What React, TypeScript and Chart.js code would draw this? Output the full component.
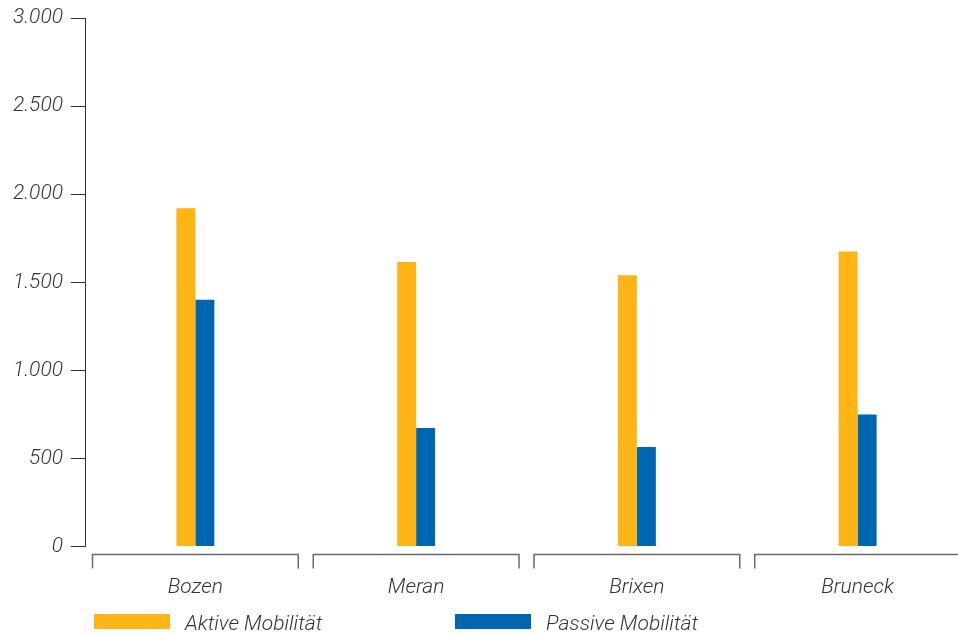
import React, { useEffect, useRef } from "react";
import { Chart, registerables } from "chart.js";

Chart.register(...registerables);

const categories = ["Bozen", "Meran", "Brixen", "Bruneck"];
const aktiveValues = [1920, 1615, 1540, 1675];
const passiveValues = [1400, 672, 565, 750];
const seriesNames = ["Aktive Mobilität", "Passive Mobilität"];
const yTicks = [0, 500, 1000, 1500, 2000, 2500, 3000];

const ORANGE = "#FDB515";
const BLUE = "#0066B2";
const TEXT = "#333333";
const FONT_FAMILY = "Roboto, 'Liberation Sans', sans-serif";

const fmt = (v: number) =>
  v === 0 ? "0" : v.toLocaleString("de-DE", { maximumFractionDigits: 0 }).replace(",", ".");

const bracketPlugin = {
  id: "brackets",
  afterDraw(chart: any) {
    const ctx = chart.ctx;
    const xs = chart.scales.x;
    const n = categories.length;
    const w = (xs.right - xs.left) / n;
    const yTop = chart.chartArea.bottom + 8;
    const yBot = yTop + 14;
    ctx.save();
    ctx.strokeStyle = "#6a6a6a";
    ctx.lineWidth = 1.5;
    for (let i = 0; i < n; i++) {
      const c = xs.getPixelForValue(i);
      const a = c - w / 2 + 7.5;
      const b = c + w / 2 - 7.5;
      ctx.beginPath();
      ctx.moveTo(a, yBot);
      ctx.lineTo(a, yTop);
      ctx.lineTo(b, yTop);
      ctx.lineTo(b, yBot);
      ctx.stroke();
    }
    // legend
    const colors = [ORANGE, BLUE];
    const boxX = [94, 455];
    ctx.font = `italic 300 21px ${FONT_FAMILY}`;
    ctx.fillStyle = TEXT;
    ctx.textBaseline = "alphabetic";
    ctx.textAlign = "left";
    for (let i = 0; i < seriesNames.length; i++) {
      ctx.fillStyle = colors[i];
      ctx.fillRect(boxX[i], 614, 76, 15);
      ctx.fillStyle = TEXT;
      ctx.fillText(seriesNames[i], boxX[i] + 91, 630);
    }
    ctx.restore();
  },
};

export default function App() {
  const ref = useRef<HTMLCanvasElement | null>(null);
  useEffect(() => {
    if (!ref.current) return;
    const chart = new Chart(ref.current, {
      type: "bar",
      data: {
        labels: categories,
        datasets: [
          {
            label: seriesNames[0],
            data: aktiveValues,
            backgroundColor: ORANGE,
            categoryPercentage: 0.172,
            barPercentage: 1,
          },
          {
            label: seriesNames[1],
            data: passiveValues,
            backgroundColor: BLUE,
            categoryPercentage: 0.172,
            barPercentage: 1,
          },
        ],
      },
      options: {
        animation: false,
        responsive: true,
        maintainAspectRatio: false,
        layout: { padding: { top: 18, right: 0, left: 0, bottom: 0 } },
        plugins: { legend: { display: false }, tooltip: { enabled: false } },
        scales: {
          x: {
            grid: { display: false, drawTicks: false },
            border: { display: false },
            ticks: {
              padding: 29,
              color: TEXT,
              font: { family: FONT_FAMILY, size: 21, style: "italic", weight: "300" as any },
            },
            afterFit: (s: any) => {
              s.height = 88.5;
              s.paddingLeft = 0;
              s.paddingRight = 0;
            },
          },
          y: {
            min: 0,
            max: 3000,
            afterBuildTicks: (s: any) => {
              s.ticks = yTicks.map((v) => ({ value: v }));
            },
            grid: {
              drawOnChartArea: false,
              drawTicks: true,
              tickLength: 14,
              tickColor: TEXT,
              lineWidth: 1,
            },
            border: { display: true, color: TEXT, width: 1 },
            ticks: {
              padding: 8,
              color: TEXT,
              font: { family: FONT_FAMILY, size: 21, style: "italic", weight: "300" as any },
              callback: (v: any) => fmt(Number(v)),
            },
            afterFit: (s: any) => {
              s.width = 85;
              s.paddingTop = 0;
              s.paddingBottom = 0;
            },
          },
        },
      },
      plugins: [bracketPlugin],
    });
    return () => chart.destroy();
  }, []);

  return (
    <div
      style={{
        position: "fixed",
        left: 0,
        top: 0,
        width: 958,
        height: 635,
        overflow: "hidden",
        background: "#fff",
      }}
    >
      <div style={{ position: "relative", width: 968, height: 635 }}>
        <canvas ref={ref} />
      </div>
    </div>
  );
}
